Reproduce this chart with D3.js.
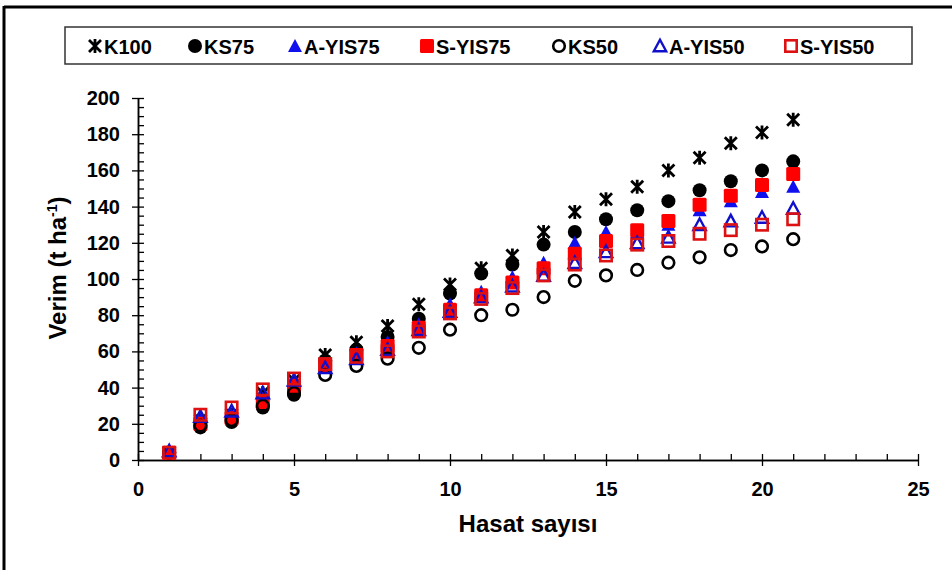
<!DOCTYPE html>
<html>
<head>
<meta charset="utf-8">
<script src="https://cdn.jsdelivr.net/npm/d3@7"></script>
<style>
  body { margin: 0; background: #fff; }
  svg { display: block; }
  text { font-family: "Liberation Sans", Arial, sans-serif; font-weight: bold; fill: #000; }
</style>
</head>
<body>
<svg id="chart" width="952" height="570"></svg>
<script>
// Harvest number (x) and yield in t/ha for each treatment
const harvests = [1, 2, 3, 4, 5, 6, 7, 8, 9, 10, 11, 12, 13, 14, 15, 16, 17, 18, 19, 20, 21];
const K100   = [4, 22, 25, 37, 44, 58, 65, 74, 86, 97, 106, 113, 126, 137, 144, 151, 160, 167, 175, 181, 188];
const KS75   = [4, 18, 21, 29, 36, 55, 61, 68, 78, 92, 103, 108, 119, 126, 133, 138, 143, 149, 154, 160, 165];
const AYIS75 = [5, 22, 25, 34, 42, 53, 59, 65, 75, 86, 93, 101, 109, 120, 126, 126, 130, 138, 143, 148, 151];
const SYIS75 = [4, 20, 23, 32, 41, 52, 58, 63, 73, 83, 91, 98, 106, 114, 121, 127, 132, 141, 146, 152, 158];
const KS50   = [4, 19, 22, 30, 37, 47, 52, 56, 62, 72, 80, 83, 90, 99, 102, 105, 109, 112, 116, 118, 122];
const AYIS50 = [5, 24, 27, 37, 44, 51, 56, 61, 72, 82, 90, 96, 102, 109, 115, 120, 123, 130, 132, 134, 139];
const SYIS50 = [4, 25, 29, 39, 45, 53, 57, 60, 71, 81, 89, 95, 102, 108, 113, 119, 121, 125, 127, 130, 133];

const seriesNames = ["K100", "KS75", "A-YIS75", "S-YIS75", "KS50", "A-YIS50", "S-YIS50"];
const seriesValues = [K100, KS75, AYIS75, SYIS75, KS50, AYIS50, SYIS50];

const xTicks = [0, 5, 10, 15, 20, 25];
const yTicks = [0, 20, 40, 60, 80, 100, 120, 140, 160, 180, 200];

// marker style per series
const markerStyle = {
  "K100":    { shape: "star",     color: "#000" },
  "KS75":    { shape: "circle",   color: "#000", filled: true },
  "A-YIS75": { shape: "triangle", color: "#1010ee", filled: true },
  "S-YIS75": { shape: "square",   color: "#ff0000", filled: true },
  "KS50":    { shape: "circle",   color: "#000", filled: false },
  "A-YIS50": { shape: "triangle", color: "#1010cc", filled: false },
  "S-YIS50": { shape: "square",   color: "#dd1111", filled: false }
};

const svg = d3.select("#chart");

// outer frame
svg.append("line").attr("x1", 4).attr("y1", 7).attr("x2", 952).attr("y2", 7)
  .attr("stroke", "#000").attr("stroke-width", 3);
svg.append("line").attr("x1", 4).attr("y1", 6).attr("x2", 4).attr("y2", 570)
  .attr("stroke", "#000").attr("stroke-width", 3);

const x = d3.scaleLinear().domain([0, 25]).range([138, 918]);
const y = d3.scaleLinear().domain([0, 200]).range([460, 98]);

// draw one marker centred at (cx, cy)
function drawMarker(g, name, cx, cy) {
  const st = markerStyle[name];
  if (st.shape === "star") {
    const r = 6;
    g.append("path")
      .attr("d", `M${cx - r},${cy - r}L${cx + r},${cy + r}M${cx - r},${cy + r}L${cx + r},${cy - r}M${cx},${cy - r - 1}L${cx},${cy + r + 1}`)
      .attr("stroke", st.color).attr("stroke-width", 2.8).attr("fill", "none");
  } else if (st.shape === "circle") {
    if (st.filled) {
      g.append("circle").attr("cx", cx).attr("cy", cy).attr("r", 7).attr("fill", st.color);
    } else {
      g.append("circle").attr("cx", cx).attr("cy", cy).attr("r", 5.8)
        .attr("fill", "none").attr("stroke", st.color).attr("stroke-width", 2.6);
    }
  } else if (st.shape === "triangle") {
    if (st.filled) {
      g.append("path").attr("d", `M${cx},${cy - 7}L${cx + 7},${cy + 6}L${cx - 7},${cy + 6}Z`).attr("fill", st.color);
    } else {
      g.append("path").attr("d", `M${cx},${cy - 6.2}L${cx + 6.2},${cy + 5.3}L${cx - 6.2},${cy + 5.3}Z`)
        .attr("fill", "none").attr("stroke", st.color).attr("stroke-width", 2.4).attr("stroke-linejoin", "miter");
    }
  } else if (st.shape === "square") {
    if (st.filled) {
      g.append("rect").attr("x", cx - 7).attr("y", cy - 7).attr("width", 14).attr("height", 14).attr("rx", 1.5).attr("fill", st.color);
    } else {
      g.append("rect").attr("x", cx - 5.7).attr("y", cy - 5.7).attr("width", 11.4).attr("height", 11.4)
        .attr("fill", "none").attr("stroke", st.color).attr("stroke-width", 2.6);
    }
  }
}

// axes: minor ticks point into the plot, major ticks cross the axis
const xMinor = d3.range(0, 26, 1);
const yMinor = d3.range(0, 201, 5);

svg.append("g").attr("transform", `translate(0,${y(0)})`)
  .call(d3.axisTop(x).tickValues(xMinor).tickSize(6).tickSizeOuter(0).tickFormat(""));
const gx = svg.append("g").attr("transform", `translate(0,${y(0)})`)
  .call(d3.axisBottom(x).tickValues(xTicks).tickSizeInner(6).tickSizeOuter(0).tickPadding(16).tickFormat(d3.format("d")));
gx.selectAll("text").attr("font-size", 20);

svg.append("g").attr("transform", `translate(${x(0)},0)`)
  .call(d3.axisRight(y).tickValues(yMinor).tickSize(6).tickSizeOuter(0).tickFormat(""));
const gy = svg.append("g").attr("transform", `translate(${x(0)},0)`)
  .call(d3.axisLeft(y).tickValues(yTicks).tickSizeInner(6).tickSizeOuter(0).tickPadding(12).tickFormat(d3.format("d")));
gy.selectAll("text").attr("font-size", 20);

svg.selectAll(".domain").attr("stroke", "#000").attr("stroke-width", 1.5);
svg.selectAll(".tick line").attr("stroke", "#000").attr("stroke-width", 1.3);
svg.selectAll(".tick text").attr("font-family", "'Liberation Sans', Arial, sans-serif").attr("font-weight", "bold").attr("fill", "#000");

// axis titles
svg.append("text").attr("x", 528).attr("y", 532).attr("text-anchor", "middle")
  .attr("font-size", 24).text("Hasat sayısı");

const yt = svg.append("text").attr("transform", "translate(66,268) rotate(-90)")
  .attr("text-anchor", "middle").attr("font-size", 24);
yt.append("tspan").text("Verim (t ha");
yt.append("tspan").attr("font-size", 14).attr("dy", -9).text("-1");
yt.append("tspan").attr("dy", 9).text(")");

// data markers, series by series
const plot = svg.append("g");
seriesNames.forEach((name, i) => {
  const g = plot.append("g").attr("class", "series");
  seriesValues[i].forEach((v, j) => drawMarker(g, name, x(harvests[j]), y(v)));
});

// legend
svg.append("rect").attr("x", 65).attr("y", 27).attr("width", 847).attr("height", 37)
  .attr("fill", "#fff").attr("stroke", "#333").attr("stroke-width", 1.5);
const legendMarkerX = [95, 195, 295, 427, 559, 660, 791];
const lg = svg.append("g");
seriesNames.forEach((name, i) => {
  drawMarker(lg, name, legendMarkerX[i], 46);
  lg.append("text").attr("x", legendMarkerX[i] + 9).attr("y", 53.5)
    .attr("font-size", 20).text(name);
});
</script>
</body>
</html>
